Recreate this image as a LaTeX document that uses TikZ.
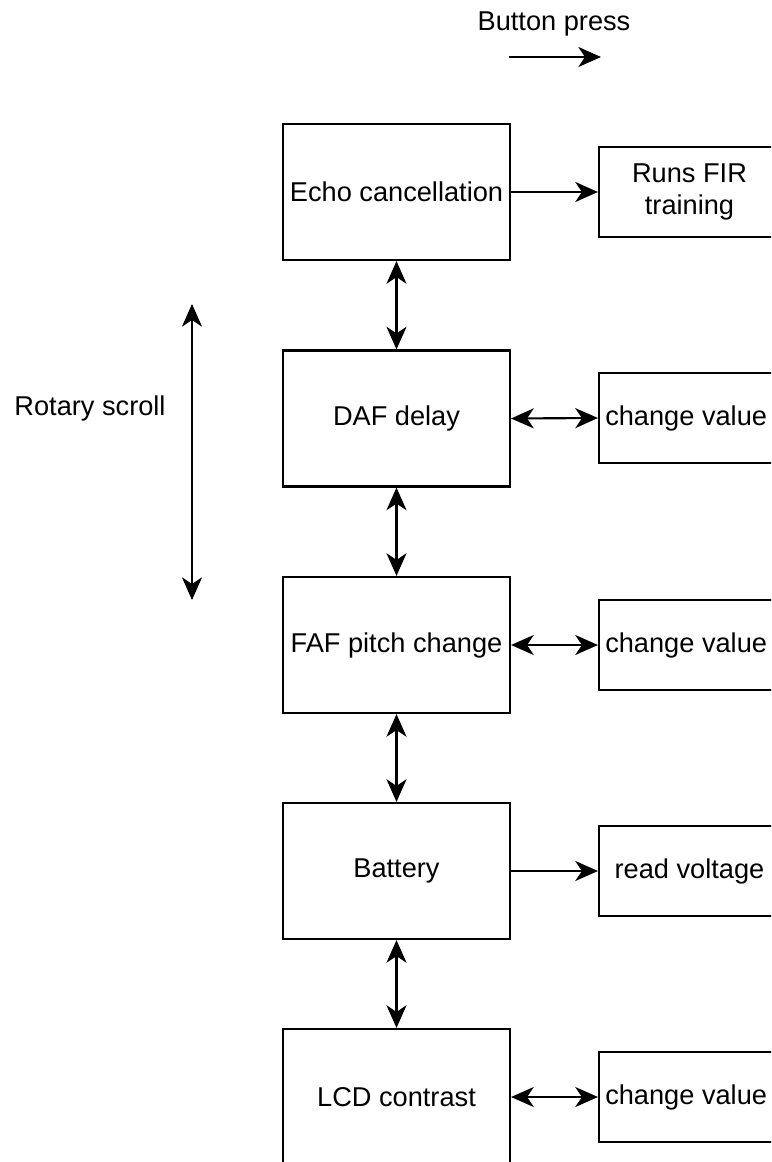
\documentclass[tikz,border=0pt]{standalone}
\usepackage{fontspec}
\setmainfont{Liberation Sans}
\usetikzlibrary{arrows.meta}
\begin{document}
\begin{tikzpicture}[x=0.75pt,y=-0.75pt,
  every node/.style={font=\fontsize{20.4}{24}\selectfont, inner sep=0pt, align=center},
  mainbox/.style={draw, line width=1.6pt, minimum width=227*0.75pt, minimum height=136*0.75pt},
  actbox/.style={draw, line width=1.6pt, minimum width=181*0.75pt, minimum height=90*0.75pt},
  tip/.tip={Stealth[length=17pt,width=15pt,inset=5pt]},
  conn/.style={line width=1.6pt, -tip},
  biconn/.style={line width=1.6pt, tip-tip}]
  \useasboundingbox (0,0) rectangle (771,1162);
  \clip (0,0) rectangle (771,1162);

  % legend
  \node (bp) at (554,24) {Button press};
  \coordinate (bpa) at (509,57);
  \coordinate (bpb) at (601,57);
  \draw[conn] (bpa) -- (bpb);

  \node (rs) at (90,408) {Rotary scroll};
  \coordinate (rsa) at (192,304);
  \coordinate (rsb) at (192,600);
  \draw[biconn] (rsa) -- (rsb);

  % menu entries
  \node[mainbox] (echo) at (396.5,192) {Echo cancellation};
  \node[mainbox] (daf)  at (396.5,418.5) {DAF delay};
  \node[mainbox] (faf)  at (396.5,645) {FAF pitch change};
  \node[mainbox] (bat)  at (396.5,871) {Battery};
  \node[mainbox] (lcd)  at (396.5,1097) {LCD contrast};

  % actions on button press
  \node[actbox] (fir)  at (689.5,192) {Runs FIR\\training};
  \node[actbox] (dafv) at (689.5,418) {\hspace*{-5pt}change value};
  \node[actbox] (fafv) at (689.5,645) {\hspace*{-5pt}change value};
  \node[actbox] (batv) at (689.5,871) {read voltage};
  \node[actbox] (lcdv) at (689.5,1097) {\hspace*{-5pt}change value};

  % scrolling between entries
  \draw[biconn] (echo.south) -- (daf.north);
  \draw[biconn] (daf.south) -- (faf.north);
  \draw[biconn] (faf.south) -- (bat.north);
  \draw[biconn] (bat.south) -- (lcd.north);

  % button actions
  \draw[conn] (echo.east) -- (fir.west);
  \draw[biconn] (daf.east) -- (dafv.west);
  \draw[biconn] (faf.east) -- (fafv.west);
  \draw[conn] (bat.east) -- (batv.west);
  \draw[biconn] (lcd.east) -- (lcdv.west);
\end{tikzpicture}
\end{document}
